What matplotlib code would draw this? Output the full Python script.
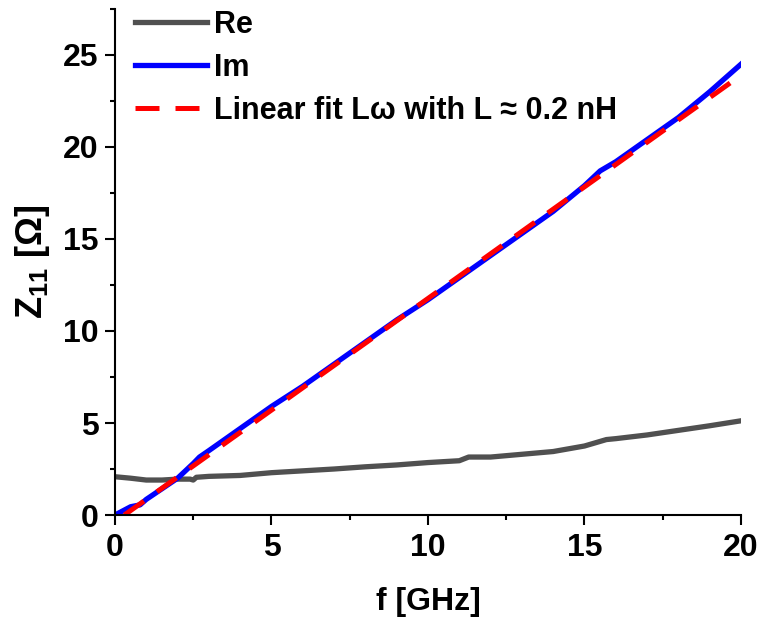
import matplotlib
matplotlib.use("Agg")
import matplotlib.pyplot as plt
from matplotlib.ticker import MultipleLocator

plt.rcParams['font.family'] = ['Liberation Sans', 'DejaVu Sans']
plt.rcParams['font.weight'] = 'bold'
plt.rcParams['mathtext.fontset'] = 'custom'
plt.rcParams['mathtext.rm'] = 'Liberation Sans'
plt.rcParams['mathtext.bf'] = 'Liberation Sans:bold'
plt.rcParams['mathtext.it'] = 'Liberation Sans:italic'

# Data
re_f = [0, 0.5, 1, 1.5, 2, 2.4, 2.5, 2.6, 3, 4, 5, 6, 7, 8, 9, 10, 11, 11.3, 12, 13, 14, 15, 15.7, 16, 17, 18, 19, 20]
re_z = [2.08, 2.0, 1.9, 1.9, 1.95, 1.95, 1.9, 2.05, 2.1, 2.15, 2.3, 2.4, 2.5, 2.62, 2.72, 2.85, 2.95, 3.15, 3.15, 3.3, 3.45, 3.75, 4.1, 4.15, 4.35, 4.6, 4.85, 5.12]

im_f = [0, 0.5, 0.8, 1, 2, 2.5, 2.7, 3, 4, 5, 6, 7, 8, 9, 10, 11, 12, 13, 14, 15, 15.5, 16, 17, 18, 19, 20]
im_z = [0.0, 0.45, 0.55, 0.85, 2.0, 2.8, 3.15, 3.5, 4.7, 5.9, 7.0, 8.2, 9.4, 10.6, 11.7, 12.9, 14.1, 15.3, 16.5, 17.9, 18.7, 19.2, 20.4, 21.6, 23.0, 24.5]

fit_f = [0.3, 20]
fit_z = [0.0, 23.9]

labels = ["Re", "Im", "Linear fit L\u03c9 with L \u2248 0.2 nH"]

fig = plt.figure(figsize=(7.61, 6.19), dpi=100)
ax = fig.add_axes([0.1511, 0.168, 0.8226, 0.8175])

ax.plot(re_f, re_z, color='#505050', lw=3.8, label=labels[0])
ax.plot(im_f, im_z, color='#0000ff', lw=3.8, label=labels[1])
ax.plot(fit_f, fit_z, color='#ff0000', lw=3.6, dashes=(4.8, 3.2), label=labels[2])

ax.set_xlim(0, 20)
ax.set_ylim(0, 27.5)
ax.xaxis.set_major_locator(MultipleLocator(5))
ax.xaxis.set_minor_locator(MultipleLocator(2.5))
ax.yaxis.set_major_locator(MultipleLocator(5))
ax.yaxis.set_minor_locator(MultipleLocator(2.5))

for s in ['top', 'right']:
    ax.spines[s].set_visible(False)
for s in ['left', 'bottom']:
    ax.spines[s].set_linewidth(1.5)
ax.tick_params(which='major', direction='out', length=7, width=1.5, labelsize=23, pad=5)
ax.tick_params(axis='x', which='major', pad=6)
ax.tick_params(which='minor', direction='out', length=3.5, width=1.5)
for lab in ax.get_xticklabels() + ax.get_yticklabels():
    lab.set_fontweight('bold')

ax.set_xlabel("f [GHz]", fontsize=23, fontweight='bold', labelpad=17)
ax.set_ylabel("Z$_{\\mathrm{11}}$ [\u03a9]", fontsize=26, fontweight='bold', labelpad=8)

leg = ax.legend(loc='upper left', bbox_to_anchor=(20 / 626, 0.998), frameon=False,
                fontsize=22, handlelength=2.35, handletextpad=0.25, labelspacing=0.42,
                borderaxespad=0.0, borderpad=0.0)
for t in leg.get_texts():
    t.set_fontweight('bold')

fig.savefig("out.png", dpi=100)
